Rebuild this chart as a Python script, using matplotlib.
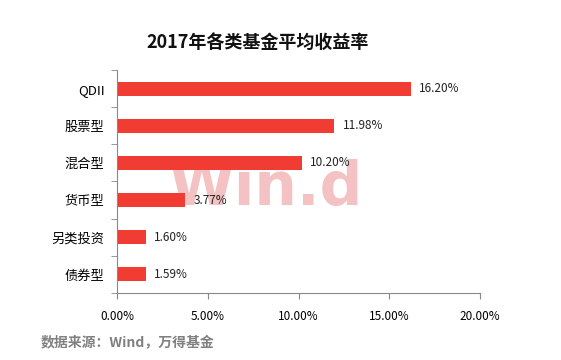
import numpy as np
import matplotlib
matplotlib.use("Agg")
import matplotlib.pyplot as plt
from matplotlib.ticker import FuncFormatter, FixedLocator

plt.rcParams['font.family'] = ['Noto Sans CJK SC', 'DejaVu Sans']

# data (top to bottom)
categories = ['QDII', '股票型', '混合型', '货币型', '另类投资', '债券型']
returns = [16.20, 11.98, 10.20, 3.77, 1.60, 1.59]
x_ticks = [0, 5, 10, 15, 20]

fig = plt.figure(figsize=(5.61, 3.6), dpi=100)
ax = fig.add_axes([0.2086, 0.1861, 0.647, 0.6195])

# faint watermark behind the bars
ax.text(0.41, 0.47, 'Win.d', transform=ax.transAxes, fontsize=43, fontweight='bold',
        color='#f4c2c2', ha='center', va='center', family='DejaVu Sans', zorder=0.5)

y = np.arange(len(categories))
ax.barh(y, returns, height=0.38, color='#f03c32', zorder=2)
ax.set_ylim(len(categories) - 0.5, -0.5)
ax.set_xlim(0, 20)

for yi, v in zip(y, returns):
    ax.text(v + 0.45, yi, f'{v:.2f}%', va='center', ha='left', fontsize=8.5,
            color='#222222', zorder=3)

ax.set_yticks(y)
ax.set_yticklabels(categories, fontsize=9.5)
ax.yaxis.set_minor_locator(FixedLocator(np.arange(-0.5, len(categories), 1.0)))
ax.tick_params(axis='y', which='major', length=0, pad=9)
ax.tick_params(axis='y', which='minor', length=4, color='#888888')

ax.set_xticks(x_ticks)
ax.xaxis.set_major_formatter(FuncFormatter(lambda v, p: f'{v:.2f}%'))
ax.tick_params(axis='x', length=4, color='#888888', labelsize=8.5, pad=8)

for s in ['top', 'right']:
    ax.spines[s].set_visible(False)
for s in ['left', 'bottom']:
    ax.spines[s].set_color('#888888')

fig.text(0.46, 0.883, '2017年各类基金平均收益率', ha='center', va='center',
         fontsize=13, fontweight='bold', color='#111111')
fig.text(0.073, 0.05, '数据来源：Wind，万得基金', ha='left', va='center',
         fontsize=10, fontweight='bold', color='#808080')

fig.savefig('out.png', dpi=100)
